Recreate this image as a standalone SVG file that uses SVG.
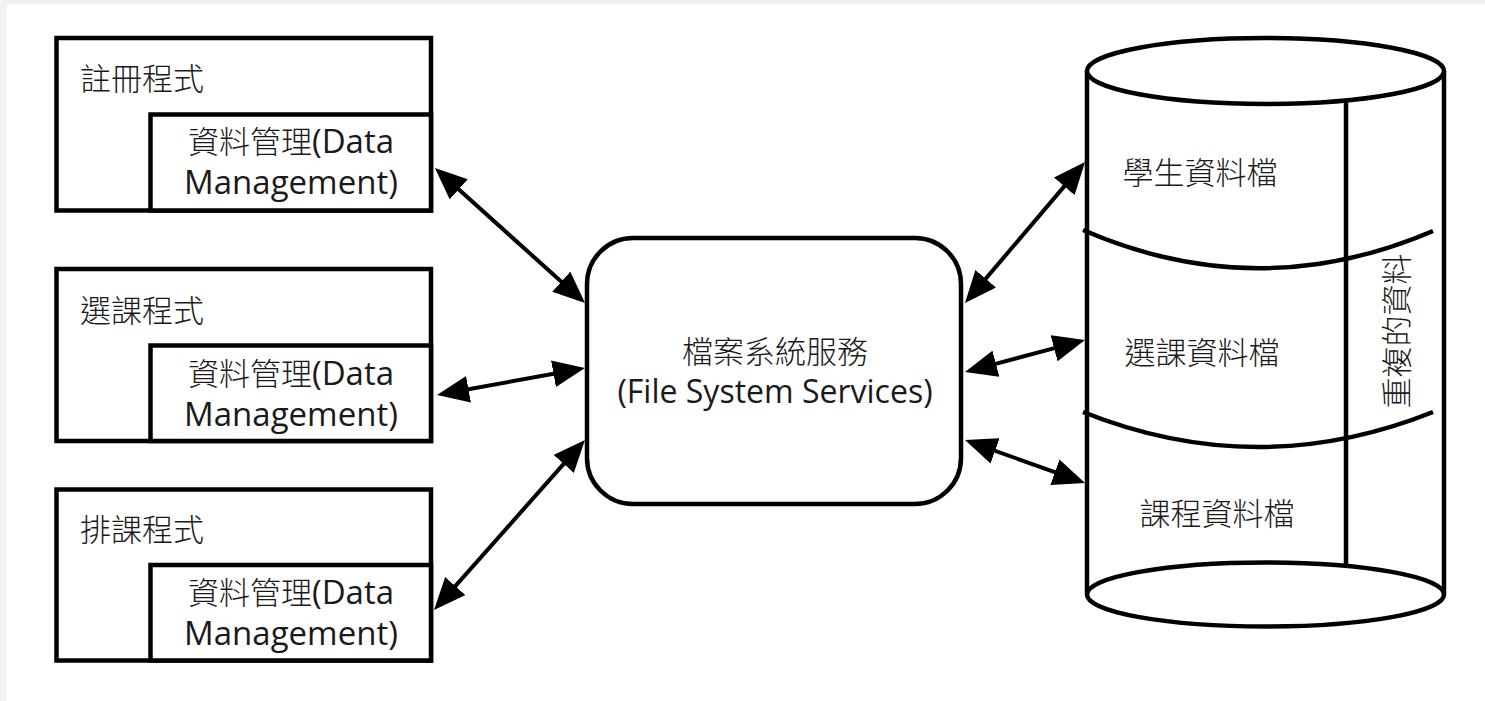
<svg xmlns="http://www.w3.org/2000/svg" width="1485" height="701" viewBox="0 0 1485 701">
  <style>
    .box { fill: #ffffff; stroke: #000000; stroke-width: 4.5; }
    .ln { fill: none; stroke: #000000; stroke-width: 4.5; }
    .txt { font-family: "Open Sans", "Noto Sans CJK TC", sans-serif; font-size: 31px; font-weight: 300; fill: #1a1a1a; }
    .lat { font-size: 33px; font-weight: 400; }
    .lat2 { font-size: 32px; font-weight: 400; }
    .mid { text-anchor: middle; }
    .conn { fill: none; stroke: #000000; stroke-width: 4; marker-start: url(#ah); marker-end: url(#ah); }
  </style>
  <defs>
    <marker id="ah" viewBox="0 0 32 27" refX="17" refY="13.5" markerWidth="32" markerHeight="27" markerUnits="userSpaceOnUse" orient="auto-start-reverse">
      <path d="M0,0 L32,13.5 L0,27 z" fill="#000000"/>
    </marker>
  </defs>
  <rect x="0" y="0" width="1485" height="701" fill="#ffffff"/>
  <rect x="0" y="0" width="1485" height="4" fill="#eeeeee"/>
  <rect x="0" y="0" width="7" height="701" fill="#f3f3f3"/>

  <g id="registration">
    <rect class="box" x="56.5" y="38" width="374.5" height="172.5"/>
    <rect class="box" x="150.5" y="114.5" width="280.5" height="96"/>
    <text class="txt" x="80" y="90">註冊程式</text>
    <text class="txt mid" x="291" y="153">資料管理<tspan class="lat">(Data</tspan></text>
    <text class="txt mid lat" x="291" y="194">Management)</text>
  </g>

  <g id="course-selection">
    <rect class="box" x="56.5" y="269" width="374.5" height="172"/>
    <rect class="box" x="150.5" y="345.5" width="280.5" height="95.5"/>
    <text class="txt" x="80" y="322">選課程式</text>
    <text class="txt mid" x="291" y="385">資料管理<tspan class="lat">(Data</tspan></text>
    <text class="txt mid lat" x="291" y="426">Management)</text>
  </g>

  <g id="scheduling">
    <rect class="box" x="56.5" y="489.5" width="374.5" height="171"/>
    <rect class="box" x="150.5" y="565" width="280.5" height="95.5"/>
    <text class="txt" x="80" y="541">排課程式</text>
    <text class="txt mid" x="291" y="604">資料管理<tspan class="lat">(Data</tspan></text>
    <text class="txt mid lat" x="291" y="645">Management)</text>
  </g>

  <g id="file-system-services">
    <rect class="box" x="587" y="238" width="374" height="266" rx="46" ry="46"/>
    <text class="txt mid" x="775" y="363">檔案系統服務</text>
    <text class="txt mid lat2" x="775" y="403">(File System Services)</text>
  </g>

  <g id="database">
    <path d="M1087,71 L1087,594.5 L1444,594.5 L1444,71 Z" fill="#ffffff"/>
    <line class="ln" x1="1087" y1="71" x2="1087" y2="594.5"/>
    <line class="ln" x1="1444" y1="71" x2="1444" y2="594.5"/>
    <ellipse class="box" cx="1265.5" cy="71" rx="178.5" ry="33"/>
    <ellipse class="box" cx="1265.5" cy="594.5" rx="178.5" ry="32"/>
    <line class="ln" x1="1346" y1="101" x2="1346" y2="565"/>
    <path class="ln" d="M1083,230 Q1258,306 1433,231"/>
    <path class="ln" d="M1083,412 Q1258,482 1433,412"/>
    <text class="txt mid" x="1200" y="184">學生資料檔</text>
    <text class="txt mid" x="1202" y="364">選課資料檔</text>
    <text class="txt mid" x="1217" y="525">課程資料檔</text>
    <text class="txt mid" transform="translate(1396,331) rotate(-90)" x="0" y="11.5">重複的資料</text>
  </g>

  <g id="connectors">
    <line class="conn" x1="446.1" y1="178" x2="573.9" y2="293"/>
    <line class="conn" x1="451.8" y1="392.3" x2="570.2" y2="370.7"/>
    <line class="conn" x1="444" y1="598.8" x2="575" y2="451.2"/>
    <line class="conn" x1="974.7" y1="291.6" x2="1075.3" y2="173.4"/>
    <line class="conn" x1="979.5" y1="368.1" x2="1070.5" y2="343.9"/>
    <line class="conn" x1="979.1" y1="445.1" x2="1070.9" y2="477.9"/>
  </g>
</svg>
